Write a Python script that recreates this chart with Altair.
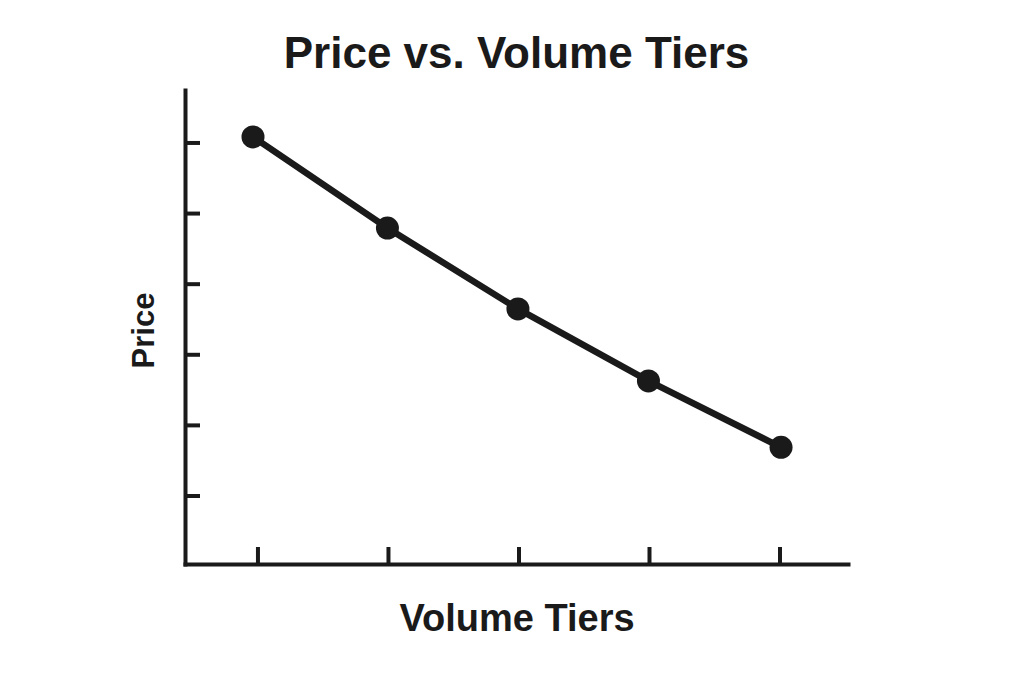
import altair as alt
import pandas as pd

# Data
tiers = [0.962, 1.992, 2.992, 3.992, 5.008]
prices = [60.85, 47.95, 36.5, 26.3, 16.9]
x_tick_values = [1, 2, 3, 4, 5]
y_tick_values = [10, 20, 30, 40, 50, 60]

INK = "#1a1a1a"
FONT = "Liberation Sans"
W, H = 663, 474

df = pd.DataFrame({"tier": tiers, "price": prices})
xt = pd.DataFrame({"tier": x_tick_values})
yt = pd.DataFrame({"price": y_tick_values})

xscale = alt.Scale(domain=[0.441, 5.521], nice=False, zero=False)
yscale = alt.Scale(domain=[0.37, 67.5], nice=False, zero=False)

x_axis = alt.Axis(
    title="Volume Tiers", labels=False, ticks=False, grid=False,
    domain=True, domainWidth=4, domainColor=INK, domainCap="square",
    titleFont=FONT, titleFontSize=38, titleFontWeight="bold", titleColor=INK,
    titleBaseline="alphabetic", titleY=66, titleX=W / 2, titleAlign="center",
)
y_axis = alt.Axis(
    title="Price", labels=False, ticks=False, grid=False,
    domain=True, domainWidth=4, domainColor=INK, domainCap="square",
    titleFont=FONT, titleFontSize=31, titleFontWeight="bold", titleColor=INK,
    titleBaseline="alphabetic", titleAngle=270, titleX=-32, titleY=240,
    titleAlign="center",
)

line = alt.Chart(df).mark_line(color=INK, strokeWidth=6.5).encode(
    x=alt.X("tier:Q", scale=xscale, axis=x_axis),
    y=alt.Y("price:Q", scale=yscale, axis=y_axis),
)
points = alt.Chart(df).mark_circle(color=INK, size=530, opacity=1).encode(
    x=alt.X("tier:Q", scale=xscale),
    y=alt.Y("price:Q", scale=yscale),
)
y_ticks = alt.Chart(yt).mark_rule(color=INK, strokeWidth=4).encode(
    y=alt.Y("price:Q", scale=yscale),
    x=alt.value(0),
    x2=alt.value(15),
)
x_ticks = alt.Chart(xt).mark_rule(color=INK, strokeWidth=4).encode(
    x=alt.X("tier:Q", scale=xscale),
    y=alt.value(H),
    y2=alt.value(H - 17),
)

chart = alt.layer(line, points, y_ticks, x_ticks).properties(
    width=W,
    height=H,
    title=alt.TitleParams(
        "Price vs. Volume Tiers", font=FONT, fontSize=44, fontWeight="bold",
        color=INK, anchor="middle", baseline="alphabetic", offset=22, dy=44,
    ),
    padding={"left": 177, "top": 82, "right": 168, "bottom": 111},
    autosize=alt.AutoSizeParams(type="none"),
    background="white",
).configure_view(stroke=None)

chart.save("out.html", embed_options={"renderer": "svg", "actions": False})
